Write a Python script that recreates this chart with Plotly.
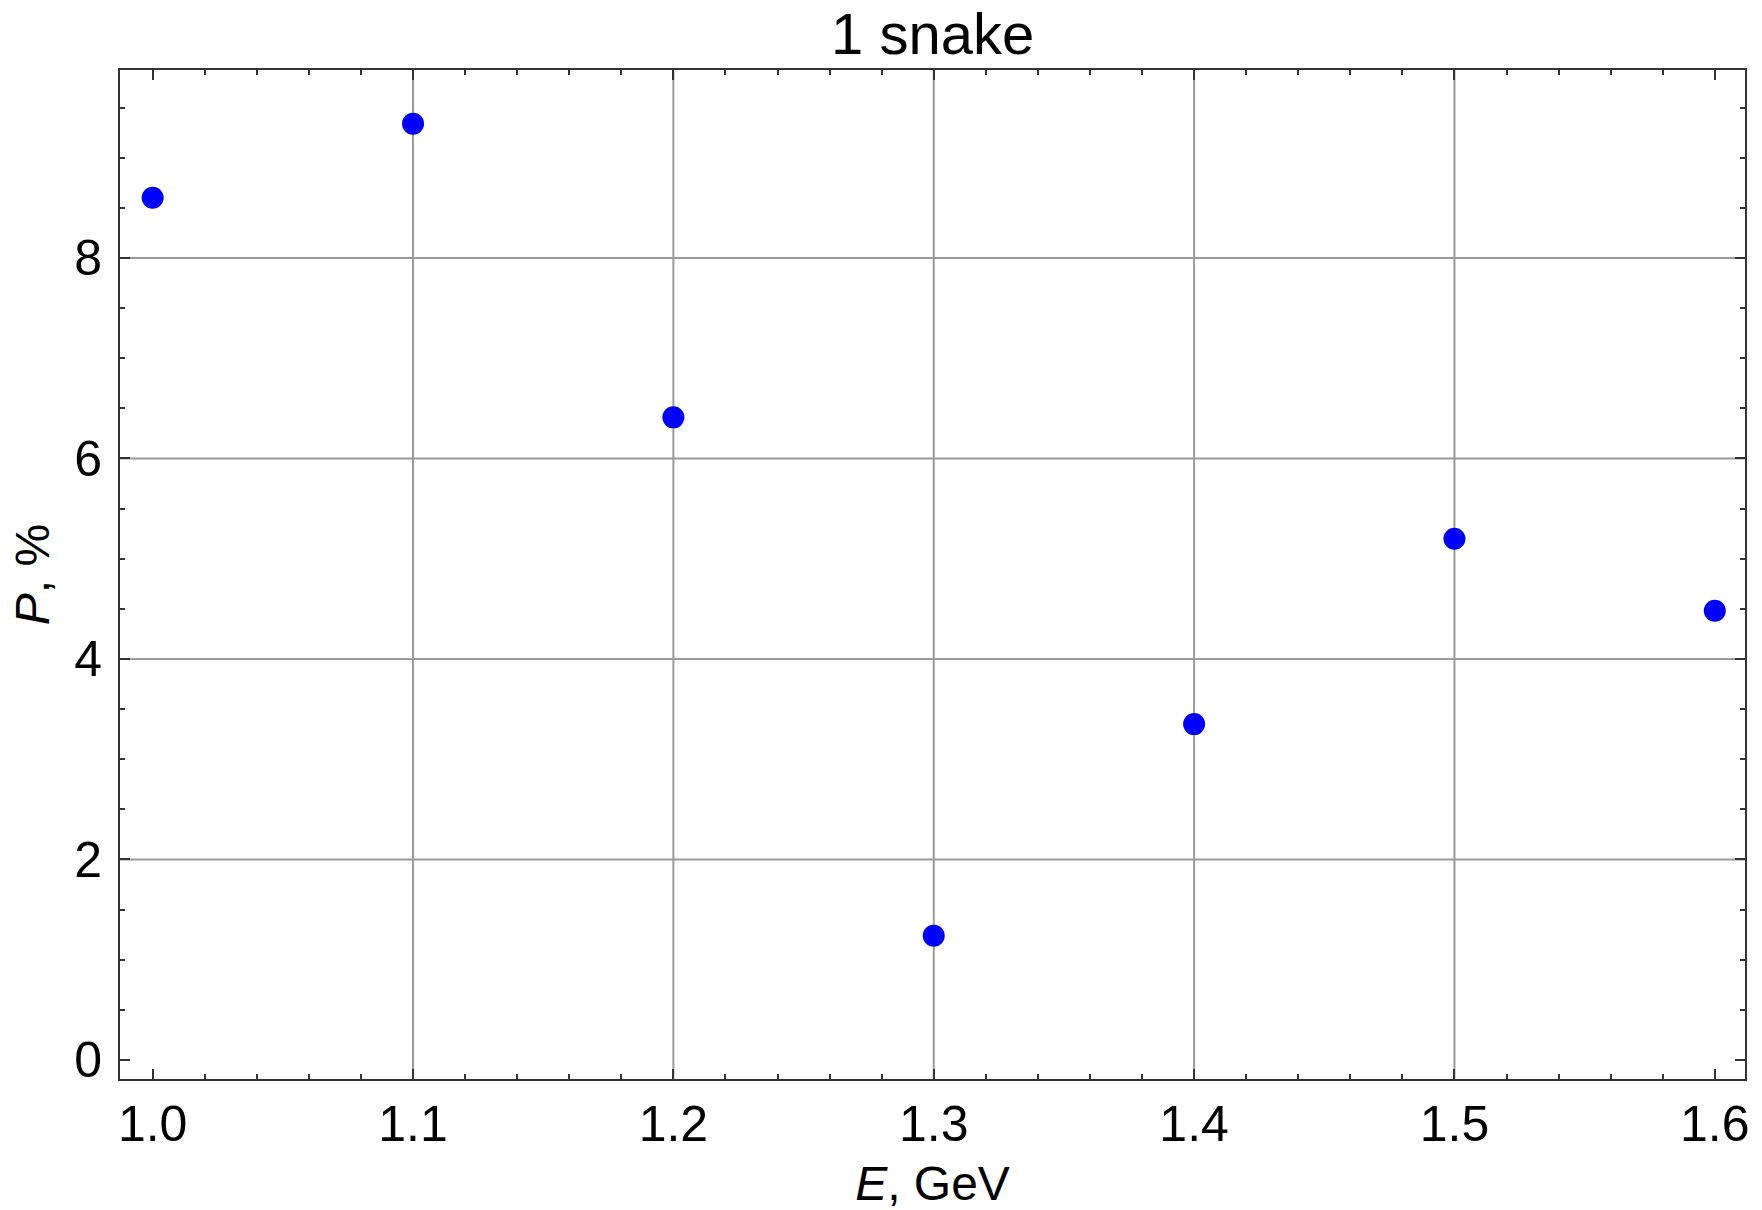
import plotly.graph_objects as go

energy = [1.0, 1.1, 1.2, 1.3, 1.4, 1.5, 1.6]
polarization = [8.60, 9.34, 6.41, 1.24, 3.35, 5.20, 4.48]
x_ticks = [1.0, 1.1, 1.2, 1.3, 1.4, 1.5, 1.6]
x_tick_labels = ["1.0", "1.1", "1.2", "1.3", "1.4", "1.5", "1.6"]
y_ticks = [0, 2, 4, 6, 8]
y_tick_labels = ["0", "2", "4", "6", "8"]
x_grid = [1.1, 1.2, 1.3, 1.4, 1.5]
y_grid = [2, 4, 6, 8]

FONT = "Liberation Sans, Arial, sans-serif"
FRAME = "#333333"
GRID = "#9a9a9a"

fig = go.Figure()

for gx in x_grid:
    fig.add_vline(x=gx, line=dict(color=GRID, width=2), layer="below")
for gy in y_grid:
    fig.add_hline(y=gy, line=dict(color=GRID, width=2), layer="below")

fig.add_trace(go.Scatter(
    x=energy, y=polarization, mode="markers",
    marker=dict(size=22, color="#0000ff", line=dict(width=0)),
    showlegend=False,
))

axis_common = dict(
    showline=True, linecolor=FRAME, linewidth=2, mirror="ticks",
    ticks="inside", tickcolor=FRAME, tickwidth=2, ticklen=10,
    showgrid=False,
    zeroline=False, automargin=False,
    tickfont=dict(family=FONT, size=50, color="black"),
)

fig.update_layout(
    width=1762, height=1210,
    margin=dict(l=120, r=17, t=70, b=131),
    paper_bgcolor="white", plot_bgcolor="white",
    title=dict(text="1 snake", x=0.5293, xanchor="center", y=0.9725, yanchor="middle",
               yref="container", automargin=False,
               font=dict(family=FONT, size=58, color="black")),
    xaxis=dict(
        range=[0.98745, 1.6116],
        tickmode="array", tickvals=x_ticks, ticktext=x_tick_labels,
        minor=dict(dtick=0.02, tick0=1.0, ticks="inside", ticklen=5, tickwidth=2,
                   tickcolor=FRAME, showgrid=False),
        title=dict(text="<i>E</i>, GeV", standoff=17,
                   font=dict(family=FONT, size=48, color="black")),
        **axis_common,
    ),
    yaxis=dict(
        range=[-0.19, 9.875],
        tickmode="array", tickvals=y_ticks, ticktext=y_tick_labels,
        minor=dict(dtick=0.5, tick0=0, ticks="inside", ticklen=5, tickwidth=2,
                   tickcolor=FRAME, showgrid=False),
        ticklabelstandoff=6,
        title=dict(text="<i>P</i>, %", standoff=9,
                   font=dict(family=FONT, size=48, color="black")),
        **axis_common,
    ),
)

fig.write_html("out.html")
